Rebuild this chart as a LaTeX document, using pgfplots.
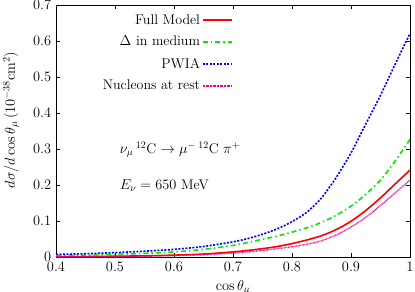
\documentclass[border=0pt]{standalone}
\usepackage{pgfplots}
\pgfplotsset{compat=1.18}
\begin{document}
\fontsize{14}{17}\selectfont
\begin{tikzpicture}
\begin{axis}[
  scale only axis, width=354pt, height=252pt,
  xmin=0.4, xmax=1, ymin=0, ymax=0.7,
  xtick={0.4,0.5,0.6,0.7,0.8,0.9,1},
  ytick={0,0.1,0.2,0.3,0.4,0.5,0.6,0.7},
  major tick length=4pt,
  tick style={black, line width=0.6pt},
  axis line style={line width=0.6pt},
  xlabel={$\cos\theta_\mu$},
  ylabel={$d\sigma/d\cos\theta_\mu\,(10^{-38}\mathrm{cm}^2)$},
  every axis x label/.style={at={(axis description cs:0.5,0)}, anchor=north, yshift=-18pt},
  every axis y label/.style={at={(axis description cs:-0.127,0.545)}, rotate=90, anchor=center},
  legend style={at={(0.508,0.981)}, anchor=north east, draw=none, fill=none, row sep=6pt},
  legend plot pos=right,
  legend cell align=right,
  legend image code/.code={\draw[#1] (0pt,0pt) -- (29pt,0pt);},
]
\addplot[color=red, line width=1.6pt, smooth] coordinates {
(0.40,0.002) (0.45,0.002) (0.50,0.003) (0.55,0.004) (0.60,0.006) (0.65,0.009)
(0.70,0.015) (0.725,0.019) (0.75,0.024) (0.775,0.030) (0.80,0.038) (0.825,0.048)
(0.85,0.060) (0.875,0.077) (0.90,0.100) (0.925,0.130) (0.95,0.165) (0.975,0.204) (1.00,0.242)};
\addlegendentry{Full Model}
\addplot[color={rgb,255:red,0;green,235;blue,0}, line width=1.6pt, smooth,
  dash pattern=on 5pt off 3pt on 1.5pt off 3pt] coordinates {
(0.40,0.005) (0.45,0.006) (0.50,0.008) (0.55,0.011) (0.60,0.015) (0.65,0.022)
(0.70,0.033) (0.725,0.041) (0.75,0.050) (0.775,0.059) (0.80,0.070) (0.825,0.082)
(0.85,0.097) (0.875,0.117) (0.90,0.142) (0.925,0.175) (0.95,0.215) (0.975,0.268) (1.00,0.328)};
\addlegendentry{$\Delta$ in medium}
\addplot[color=blue, line width=1.6pt, smooth,
  dash pattern=on 2pt off 1.5pt] coordinates {
(0.40,0.008) (0.45,0.010) (0.50,0.013) (0.55,0.017) (0.60,0.022) (0.65,0.030)
(0.70,0.043) (0.725,0.052) (0.75,0.064) (0.775,0.079) (0.80,0.099) (0.825,0.125)
(0.85,0.165) (0.875,0.222) (0.90,0.290) (0.925,0.370) (0.95,0.450) (0.975,0.537) (1.00,0.622)};
\addlegendentry{PWIA}
\addplot[color=magenta, line width=1.4pt, smooth,
  dash pattern=on 0.7pt off 0.7pt] coordinates {
(0.40,0.001) (0.45,0.002) (0.50,0.002) (0.55,0.003) (0.60,0.005) (0.65,0.007)
(0.70,0.012) (0.725,0.015) (0.75,0.019) (0.775,0.024) (0.80,0.029) (0.825,0.036)
(0.85,0.046) (0.875,0.062) (0.90,0.084) (0.925,0.111) (0.95,0.144) (0.975,0.179) (1.00,0.215)};
\addlegendentry{Nucleons at rest}
\node[anchor=west] at (axis cs:0.5,0.298) {$\nu_\mu\,{}^{12}$C $\rightarrow\mu^-\,{}^{12}$C $\pi^+$};
\node[anchor=west] at (axis cs:0.5,0.2) {$E_\nu=650$ MeV};
\end{axis}
\pgfresetboundingbox
\path[use as bounding box] ([xshift=-56pt,yshift=-34.7pt]current axis.south west) rectangle ([xshift=5pt,yshift=5.3pt]current axis.north east);
\end{tikzpicture}
\end{document}
